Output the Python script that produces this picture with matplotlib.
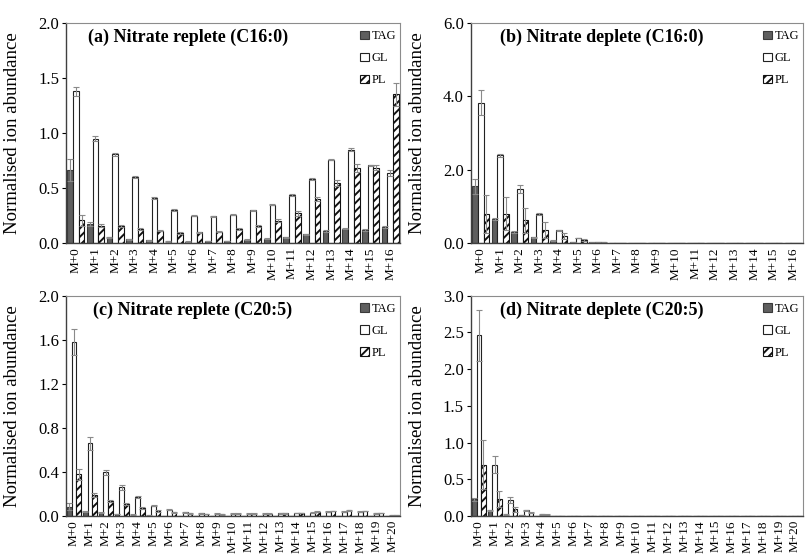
import matplotlib
matplotlib.use("Agg")
import matplotlib.pyplot as plt
import numpy as np

plt.rcParams["font.family"] = ["Liberation Serif", "DejaVu Serif"]
plt.rcParams["hatch.linewidth"] = 1.4

##################################################
# Data
labels_16 = [f"M+{i}" for i in range(17)]
labels_20 = [f"M+{i}" for i in range(21)]

# (a) Nitrate replete C16:0
a_tag = [0.66, 0.175, 0.055, 0.036, 0.027, 0.018, 0.015, 0.02, 0.02, 0.03, 0.042,
         0.055, 0.08, 0.11, 0.133, 0.12, 0.15]
a_gl = [1.38, 0.95, 0.806, 0.60, 0.41, 0.30, 0.25, 0.245, 0.26, 0.297, 0.35,
        0.44, 0.585, 0.757, 0.85, 0.706, 0.636]
a_pl = [0.21, 0.16, 0.157, 0.13, 0.115, 0.09, 0.097, 0.105, 0.13, 0.155, 0.203,
        0.27, 0.40, 0.545, 0.685, 0.685, 1.35]
a_tag_err = [0.10, 0.02, 0.005, 0.005, 0.004, 0.003, 0.003, 0.003, 0.003, 0.004, 0.005,
             0.005, 0.006, 0.008, 0.008, 0.006, 0.01]
a_gl_err = [0.04, 0.02, 0.015, 0.01, 0.006, 0.006, 0.005, 0.005, 0.005, 0.006, 0.006,
            0.008, 0.01, 0.006, 0.01, 0.005, 0.03]
a_pl_err = [0.05, 0.015, 0.01, 0.01, 0.008, 0.008, 0.008, 0.008, 0.01, 0.01, 0.015,
            0.02, 0.02, 0.025, 0.035, 0.025, 0.10]

# (b) Nitrate deplete C16:0
b_tag = [1.55, 0.66, 0.30, 0.16, 0.07, 0.03, 0.02, 0.01, 0.01, 0.01, 0.01,
         0.01, 0.01, 0.01, 0.01, 0.01, 0.01]
b_gl = [3.82, 2.39, 1.48, 0.80, 0.35, 0.14, 0.04, 0.01, 0.01, 0.01, 0.01,
        0.01, 0.01, 0.01, 0.01, 0.01, 0.01]
b_pl = [0.80, 0.80, 0.62, 0.36, 0.19, 0.09, 0.02, 0.01, 0.01, 0.01, 0.01,
        0.01, 0.01, 0.01, 0.01, 0.01, 0.01]
b_tag_err = [0.20, 0.02, 0.02, 0.01, 0.01, 0.005, 0.003, 0.002, 0.002, 0.002, 0.002,
             0.002, 0.002, 0.002, 0.002, 0.002, 0.002]
b_gl_err = [0.34, 0.05, 0.10, 0.03, 0.02, 0.01, 0.005, 0.002, 0.002, 0.002, 0.002,
            0.002, 0.002, 0.002, 0.002, 0.002, 0.002]
b_pl_err = [0.52, 0.45, 0.34, 0.21, 0.09, 0.02, 0.005, 0.002, 0.002, 0.002, 0.002,
            0.002, 0.002, 0.002, 0.002, 0.002, 0.002]

# (c) Nitrate replete C20:5
c_tag = [0.085, 0.04, 0.03, 0.018, 0.012, 0.005, 0.003, 0.002, 0.002, 0.002, 0.002,
         0.002, 0.002, 0.002, 0.002, 0.002, 0.002, 0.002, 0.002, 0.002, 0.002]
c_gl = [1.58, 0.66, 0.395, 0.26, 0.17, 0.094, 0.055, 0.035, 0.025, 0.02, 0.02,
        0.02, 0.022, 0.025, 0.028, 0.03, 0.04, 0.04, 0.04, 0.025, 0.005]
c_pl = [0.38, 0.19, 0.136, 0.106, 0.07, 0.045, 0.033, 0.025, 0.018, 0.015, 0.02,
        0.02, 0.022, 0.025, 0.028, 0.04, 0.045, 0.05, 0.045, 0.028, 0.005]
c_tag_err = [0.03, 0.005, 0.004, 0.003, 0.002, 0.001, 0.001, 0.001, 0.001, 0.001, 0.001,
             0.001, 0.001, 0.001, 0.001, 0.001, 0.001, 0.001, 0.001, 0.001, 0.001]
c_gl_err = [0.12, 0.06, 0.025, 0.02, 0.01, 0.008, 0.005, 0.004, 0.003, 0.003, 0.003,
            0.003, 0.003, 0.003, 0.003, 0.004, 0.004, 0.004, 0.004, 0.003, 0.001]
c_pl_err = [0.05, 0.015, 0.01, 0.01, 0.008, 0.005, 0.004, 0.003, 0.003, 0.003, 0.003,
            0.003, 0.003, 0.003, 0.003, 0.004, 0.004, 0.005, 0.004, 0.003, 0.001]

# (d) Nitrate deplete C20:5
d_tag = [0.226, 0.077, 0.02, 0.008, 0.002, 0.001, 0.001, 0.001, 0.001, 0.001, 0.001,
         0.001, 0.001, 0.001, 0.001, 0.001, 0.001, 0.001, 0.001, 0.001, 0.001]
d_gl = [2.46, 0.70, 0.217, 0.077, 0.022, 0.005, 0.005, 0.005, 0.004, 0.004, 0.004,
        0.004, 0.005, 0.005, 0.005, 0.005, 0.005, 0.005, 0.004, 0.003, 0.004]
d_pl = [0.70, 0.226, 0.09, 0.045, 0.018, 0.005, 0.005, 0.005, 0.004, 0.004, 0.004,
        0.004, 0.005, 0.005, 0.005, 0.005, 0.005, 0.005, 0.004, 0.003, 0.004]
d_tag_err = [0.02, 0.005, 0.003, 0.001, 0.001, 0.0, 0.0, 0.0, 0.0, 0.0, 0.0,
             0.0, 0.0, 0.0, 0.0, 0.0, 0.0, 0.0, 0.0, 0.0, 0.0]
d_gl_err = [0.35, 0.12, 0.035, 0.01, 0.004, 0.001, 0.001, 0.001, 0.001, 0.001, 0.001,
            0.001, 0.001, 0.001, 0.001, 0.001, 0.001, 0.001, 0.001, 0.001, 0.001]
d_pl_err = [0.33, 0.11, 0.037, 0.01, 0.004, 0.001, 0.001, 0.001, 0.001, 0.001, 0.001,
            0.001, 0.001, 0.001, 0.001, 0.001, 0.001, 0.001, 0.001, 0.001, 0.001]

series_names = ["TAG", "GL", "PL"]

##################################################
# Plot
fig = plt.figure(figsize=(8.05, 5.59), dpi=100)

panels = [
    ([0.082, 0.565, 0.415, 0.394], labels_16, (a_tag, a_gl, a_pl),
     (a_tag_err, a_gl_err, a_pl_err), 2.0, 0.5,
     "(a) Nitrate replete (C16:0)", 0.066),
    ([0.585, 0.565, 0.4125, 0.394], labels_16, (b_tag, b_gl, b_pl),
     (b_tag_err, b_gl_err, b_pl_err), 6.0, 2.0,
     "(b) Nitrate deplete (C16:0)", 0.087),
    ([0.082, 0.077, 0.415, 0.394], labels_20, (c_tag, c_gl, c_pl),
     (c_tag_err, c_gl_err, c_pl_err), 2.0, 0.4,
     "(c) Nitrate replete (C20:5)", 0.081),
    ([0.585, 0.077, 0.4125, 0.394], labels_20, (d_tag, d_gl, d_pl),
     (d_tag_err, d_gl_err, d_pl_err), 3.0, 0.5,
     "(d) Nitrate deplete (C20:5)", 0.087),
]

bw = 0.29
styles = [
    dict(color="#5f5f5f", edgecolor="#3a3a3a"),
    dict(color="white", edgecolor="#222222"),
    dict(color="white", edgecolor="#111111", hatch="////"),
]

for rect, labels, vals, errs, ymax, ystep, title, tx in panels:
    ax = fig.add_axes(rect)
    x = np.arange(len(labels))
    for k, (v, e, st) in enumerate(zip(vals, errs, styles)):
        ax.bar(x + (k - 1) * bw, v, bw, yerr=e, label=series_names[k],
               linewidth=0.8, error_kw=dict(ecolor="#8a8a8a", elinewidth=0.8,
                                            capsize=2, capthick=0.8), **st)
    ax.set_xlim(-0.5, len(labels) - 0.5)
    ax.set_ylim(0, ymax)
    ax.set_yticks(np.arange(0, ymax + ystep / 2, ystep))
    ax.yaxis.set_major_formatter(matplotlib.ticker.FormatStrFormatter("%.1f"))
    ax.set_xticks(x)
    ax.set_xticklabels(labels, rotation=90, fontsize=9.5)
    ax.tick_params(axis="x", length=0, pad=3)
    ax.tick_params(axis="y", length=3, width=0.8, labelsize=12, pad=2)
    for s in ["top", "right"]:
        ax.spines[s].set_color("#8c8c8c")
        ax.spines[s].set_linewidth(0.8)
    for s in ["left", "bottom"]:
        ax.spines[s].set_color("#404040")
        ax.spines[s].set_linewidth(1.0)
    ax.set_ylabel("Normalised ion abundance", fontsize=13.5)
    ax.yaxis.set_label_coords(-0.135, 0.5)
    ax.text(tx, 0.935, title, transform=ax.transAxes, fontsize=13,
            fontweight="bold", ha="left", va="center")
    ax.legend(loc="upper right", bbox_to_anchor=(1.01, 1.0), frameon=False,
              fontsize=9, handlelength=0.7, handleheight=0.7, handletextpad=0.2,
              labelspacing=0.8, borderaxespad=0.2)

fig.savefig("out.png", dpi=100)
